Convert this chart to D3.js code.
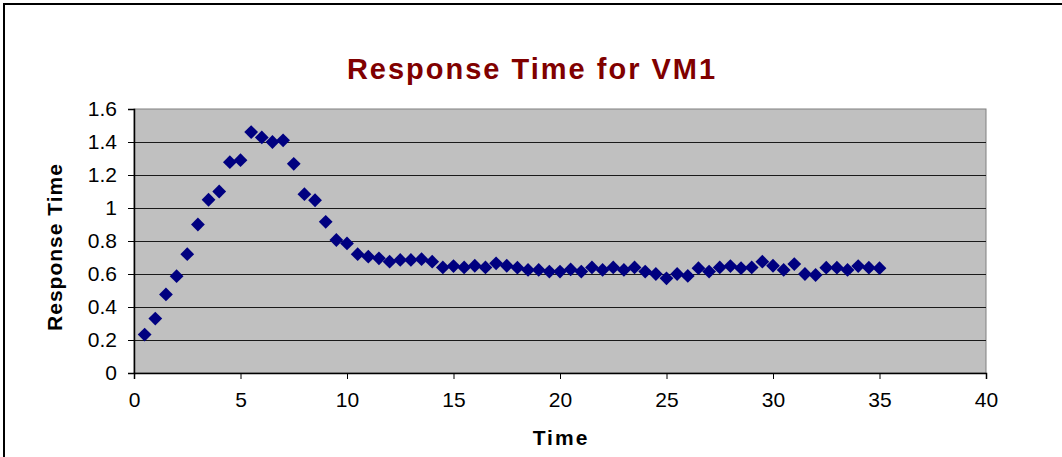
<!DOCTYPE html>
<html>
<head>
<meta charset="utf-8">
<script src="https://cdn.jsdelivr.net/npm/d3@7"></script>
<style>
  body { margin: 0; background: #fff; }
  svg { display: block; }
</style>
</head>
<body>
<div id="chart"></div>
<script>
// data: one sample every half time unit
var times = [];
for (var i = 1; i <= 70; i++) times.push(i * 0.5);

var responseTime = [
  0.233, 0.33, 0.476, 0.587, 0.72, 0.90, 1.05, 1.10, 1.278, 1.29,
  1.46, 1.428, 1.40, 1.41, 1.268, 1.084, 1.047, 0.916, 0.806, 0.785,
  0.72, 0.705, 0.695, 0.675, 0.685, 0.685, 0.69, 0.675, 0.64, 0.648,
  0.64, 0.65, 0.64, 0.665, 0.65, 0.638, 0.625, 0.625, 0.615, 0.615,
  0.628, 0.615, 0.64, 0.625, 0.64, 0.625, 0.64, 0.615, 0.60, 0.574,
  0.60, 0.588, 0.635, 0.615, 0.64, 0.648, 0.635, 0.64, 0.675, 0.65,
  0.625, 0.66, 0.60, 0.594, 0.638, 0.638, 0.625, 0.648, 0.638, 0.635
];

var xTicks = [0, 5, 10, 15, 20, 25, 30, 35, 40];
var yTicks = [0, 0.2, 0.4, 0.6, 0.8, 1, 1.2, 1.4, 1.6];

var data = times.map(function(t, i) { return {t: t, v: responseTime[i]}; });

var W = 1062, H = 457;
var margin = {top: 109, right: 76, bottom: 84, left: 134},
    width = W - margin.left - margin.right,
    height = H - margin.top - margin.bottom;

var x = d3.scaleLinear().domain([0, 40]).range([0, width]);
var y = d3.scaleLinear().domain([0, 1.6]).range([height, 0]);

var svg = d3.select("#chart").append("svg")
    .attr("width", W)
    .attr("height", H);

// chart frame (runs off the right and bottom of the picture)
svg.append("rect")
    .attr("x", 4).attr("y", 4)
    .attr("width", W + 10).attr("height", H + 10)
    .attr("fill", "#fff")
    .attr("stroke", "#000")
    .attr("stroke-width", 2);

var g = svg.append("g")
    .attr("transform", "translate(" + margin.left + "," + margin.top + ")");

// plot area
g.append("rect")
    .attr("width", width)
    .attr("height", height)
    .attr("fill", "#c0c0c0")
    .attr("stroke", "#808080")
    .attr("stroke-width", 1);

// gridlines
g.selectAll(".grid")
    .data(yTicks.slice(1, -1))
  .enter().append("line")
    .attr("class", "grid")
    .attr("x1", 0).attr("x2", width)
    .attr("y1", function(d) { return Math.round(y(d)) + 0.5; })
    .attr("y2", function(d) { return Math.round(y(d)) + 0.5; })
    .attr("stroke", "#1a1a1a")
    .attr("stroke-width", 1);

// axes
var xAxis = g.append("g")
    .attr("class", "x axis")
    .attr("transform", "translate(0," + height + ")")
    .call(d3.axisBottom(x).tickValues(xTicks).tickSize(6).tickPadding(13));

var yAxis = g.append("g")
    .attr("class", "y axis")
    .call(d3.axisLeft(y).tickValues(yTicks).tickSize(6).tickPadding(11)
      .tickFormat(function(d) { return d3.format("")(+d.toFixed(1)); }));

[xAxis, yAxis].forEach(function(a) {
  a.select(".domain").attr("stroke", "#000").attr("stroke-width", 1.5);
  a.selectAll(".tick line").attr("stroke", "#000");
  a.selectAll(".tick text")
      .attr("fill", "#000")
      .style("font-family", '"Liberation Sans", Arial, sans-serif')
      .style("font-size", "21px");
});

// markers
g.selectAll(".pt")
    .data(data)
  .enter().append("path")
    .attr("class", "pt")
    .attr("d", d3.symbol().type(d3.symbolSquare).size(95))
    .attr("transform", function(d) {
      return "translate(" + x(d.t) + "," + y(d.v) + ") rotate(45)";
    })
    .attr("fill", "#000080");

// title
svg.append("text")
    .attr("x", 532)
    .attr("y", 79)
    .attr("text-anchor", "middle")
    .style("font-family", '"Liberation Sans", Arial, sans-serif')
    .style("font-size", "29px")
    .style("font-weight", "700")
    .style("letter-spacing", "2px")
    .attr("fill", "#800000")
    .text("Response Time for VM1");

// x label
svg.append("text")
    .attr("x", margin.left + width / 2 + 1)
    .attr("y", 445)
    .attr("text-anchor", "middle")
    .style("font-family", '"Liberation Sans", Arial, sans-serif')
    .style("font-size", "21px")
    .style("font-weight", "700")
    .style("letter-spacing", "2px")
    .text("Time");

// y label
svg.append("text")
    .attr("transform", "translate(62," + (margin.top + height / 2 + 6) + ") rotate(-90)")
    .attr("text-anchor", "middle")
    .style("font-family", '"Liberation Sans", Arial, sans-serif')
    .style("font-size", "21px")
    .style("font-weight", "700")
    .style("letter-spacing", "1px")
    .text("Response Time");
</script>
</body>
</html>
